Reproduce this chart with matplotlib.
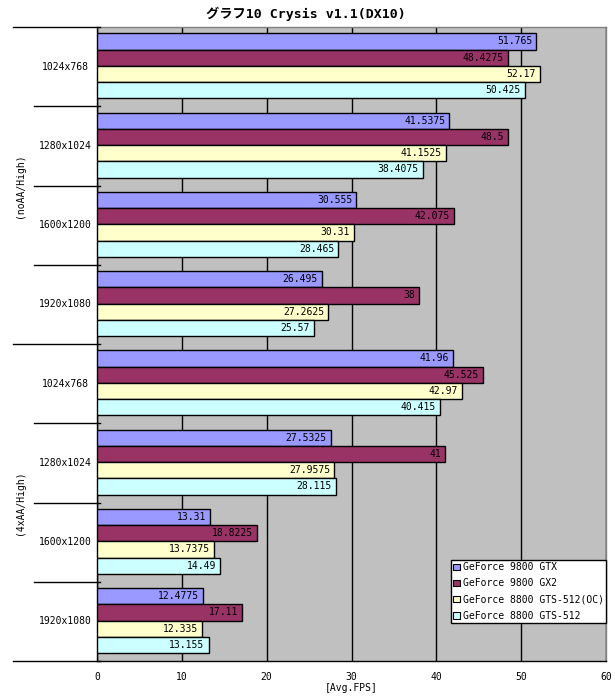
import matplotlib
matplotlib.use("Agg")
import matplotlib.pyplot as plt
from matplotlib.patches import Patch
import numpy as np

plt.rcParams['font.family'] = ['DejaVu Sans Mono', 'Noto Sans CJK JP']

resolutions = ["1024x768", "1280x1024", "1600x1200", "1920x1080",
               "1024x768", "1280x1024", "1600x1200", "1920x1080"]
settings = ["(noAA/High)", "(4xAA/High)"]
series_names = ["GeForce 9800 GTX", "GeForce 9800 GX2",
                "GeForce 8800 GTS-512(OC)", "GeForce 8800 GTS-512"]
gtx = [51.765, 41.5375, 30.555, 26.495, 41.96, 27.5325, 13.31, 12.4775]
gx2 = [48.4275, 48.5, 42.075, 38, 45.525, 41, 18.8225, 17.11]
gts_oc = [52.17, 41.1525, 30.31, 27.2625, 42.97, 27.9575, 13.7375, 12.335]
gts = [50.425, 38.4075, 28.465, 25.57, 40.415, 28.115, 14.49, 13.155]
label_texts = [
    ["51.765", "41.5375", "30.555", "26.495", "41.96", "27.5325", "13.31", "12.4775"],
    ["48.4275", "48.5", "42.075", "38", "45.525", "41", "18.8225", "17.11"],
    ["52.17", "41.1525", "30.31", "27.2625", "42.97", "27.9575", "13.7375", "12.335"],
    ["50.425", "38.4075", "28.465", "25.57", "40.415", "28.115", "14.49", "13.155"],
]
colors = ["#9999FF", "#993366", "#FFFFCC", "#CCFFFF"]

W, H = 615, 700
fig = plt.figure(figsize=(W / 100, H / 100), dpi=100)
L, R, T, B = 97, 606, 27, 661
ax = fig.add_axes([L / W, 1 - B / H, (R - L) / W, (B - T) / H])
ax.set_facecolor("#C0C0C0")

n = len(resolutions)
h = 0.205
series = [gtx, gx2, gts_oc, gts]
for s, (vals, col) in enumerate(zip(series, colors)):
    ys = np.arange(n) + 0.08 + h * s + h / 2
    ax.barh(ys, vals, height=h, color=col, edgecolor="black", linewidth=1.0, zorder=3)
    for y, v, t in zip(ys, vals, label_texts[s]):
        ax.annotate(t, (v, y), xytext=(-4, 0), textcoords="offset pixels",
                    ha="right", va="center", fontsize=7, zorder=4)

ax.set_xlim(0, 60)
ax.set_ylim(n, 0)
ax.set_xticks(np.arange(0, 61, 10))
ax.xaxis.grid(True, color="black", linewidth=1.0, zorder=1)
ax.set_axisbelow(True)
ax.tick_params(axis="x", length=0, pad=8, labelsize=7)
ax.set_yticks([])
for sp in ["top", "right"]:
    ax.spines[sp].set_color("#808080")
    ax.spines[sp].set_linewidth(1.0)
for sp in ["left", "bottom"]:
    ax.spines[sp].set_color("black")
    ax.spines[sp].set_linewidth(1.0)

ytr = ax.get_yaxis_transform()
outer_x = (13 - L) / (R - L)
inner_x = (34 - L) / (R - L)
tick_in = 3 / (R - L)
for b in range(n + 1):
    x0 = outer_x if b % 4 == 0 else inner_x
    ax.plot([x0, tick_in], [b, b], transform=ytr, color="black", lw=1.0,
            clip_on=False, zorder=5)
for i, r in enumerate(resolutions):
    ax.text((65 - L) / (R - L), i + 0.5, r, transform=ytr, ha="center",
            va="center", fontsize=7)
for g, s in enumerate(settings):
    ax.text((20 - L) / (R - L), g * 4 + 2, s, transform=ytr, ha="center",
            va="center", rotation=90, fontsize=7)

fig.text(306 / W, 1 - 14 / H, "グラフ10 Crysis v1.1(DX10)", ha="center",
         va="center", fontsize=9.5, fontweight="bold")
fig.text((L + R) / 2 / W, 1 - 688 / H, "[Avg.FPS]", ha="center", va="center",
         fontsize=7)

handles = [Patch(facecolor=c, edgecolor="black", linewidth=0.8) for c in colors]
leg = fig.legend(handles, series_names, loc="upper left",
                 bbox_to_anchor=(451 / W, 1 - 560 / H), fontsize=7,
                 handlelength=0.7, handleheight=0.7, handletextpad=0.25,
                 borderaxespad=0, borderpad=0.25, labelspacing=0.62,
                 fancybox=False, framealpha=1, edgecolor="black")
leg.get_frame().set_linewidth(1.0)

fig.savefig("out.png", dpi=100, facecolor="white")
